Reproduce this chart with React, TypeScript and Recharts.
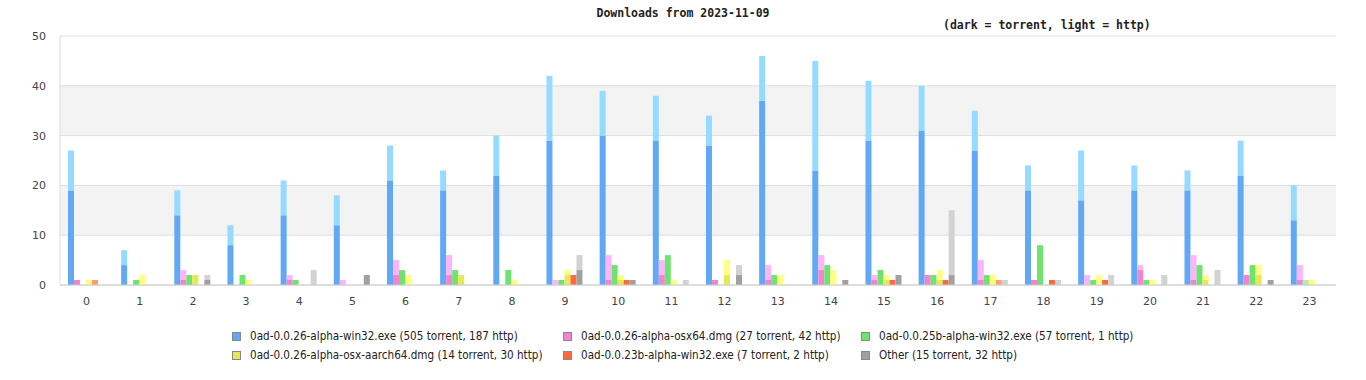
import { BarChart, Bar, XAxis, YAxis, CartesianGrid } from 'recharts';

const hours = ['0','1','2','3','4','5','6','7','8','9','10','11','12','13','14','15','16','17','18','19','20','21','22','23'];

// torrent / http counts per hour for each file
const win32Torrent = [19, 4, 14, 8, 14, 12, 21, 19, 22, 29, 30, 29, 28, 37, 23, 29, 31, 27, 19, 17, 19, 19, 22, 13];
const win32Http = [8, 3, 5, 4, 7, 6, 7, 4, 8, 13, 9, 9, 6, 9, 22, 12, 9, 8, 5, 10, 5, 4, 7, 7];
const osx64Torrent = [1, 0, 1, 0, 1, 0, 2, 2, 0, 0, 1, 2, 1, 1, 3, 1, 2, 1, 1, 0, 3, 1, 2, 1];
const osx64Http = [0, 0, 2, 0, 1, 1, 3, 4, 0, 1, 5, 3, 0, 3, 3, 1, 0, 4, 0, 2, 1, 5, 0, 3];
const win32bTorrent = [0, 1, 2, 2, 1, 0, 3, 3, 3, 1, 4, 6, 0, 2, 4, 3, 2, 2, 8, 1, 1, 4, 4, 0];
const win32bHttp = [0, 0, 0, 0, 0, 0, 0, 0, 0, 0, 0, 0, 0, 0, 0, 0, 0, 0, 0, 0, 0, 0, 0, 1];
const aarchTorrent = [0, 0, 2, 0, 0, 0, 0, 2, 0, 2, 1, 0, 2, 0, 0, 1, 1, 0, 0, 0, 0, 1, 2, 0];
const aarchHttp = [1, 2, 0, 1, 0, 0, 2, 0, 1, 1, 1, 1, 3, 2, 3, 1, 2, 2, 0, 2, 1, 1, 2, 1];
const oldTorrent = [0, 0, 0, 0, 0, 0, 0, 0, 0, 2, 1, 0, 0, 0, 0, 1, 1, 0, 1, 1, 0, 0, 0, 0];
const oldHttp = [1, 0, 0, 0, 0, 0, 0, 0, 0, 0, 0, 0, 0, 0, 0, 0, 0, 1, 0, 0, 0, 0, 0, 0];
const otherTorrent = [0, 0, 1, 0, 0, 2, 0, 0, 0, 3, 1, 0, 2, 0, 1, 2, 2, 0, 0, 0, 0, 0, 1, 0];
const otherHttp = [0, 0, 1, 0, 3, 0, 0, 0, 0, 3, 0, 1, 2, 0, 0, 0, 13, 1, 1, 2, 2, 3, 0, 0];

const seriesNames = [
  '0ad-0.0.26-alpha-win32.exe (505 torrent, 187 http)',
  '0ad-0.0.26-alpha-osx64.dmg (27 torrent, 42 http)',
  '0ad-0.0.25b-alpha-win32.exe (57 torrent, 1 http)',
  '0ad-0.0.26-alpha-osx-aarch64.dmg (14 torrent, 30 http)',
  '0ad-0.0.23b-alpha-win32.exe (7 torrent, 2 http)',
  'Other (15 torrent, 32 http)',
];

const yTicks = [0, 10, 20, 30, 40, 50];

const series = [
  { key: 's0', torrent: win32Torrent, http: win32Http, dark: '#62a9f5', light: '#95dbff' },
  { key: 's1', torrent: osx64Torrent, http: osx64Http, dark: '#f283cf', light: '#fdb4fb' },
  { key: 's2', torrent: win32bTorrent, http: win32bHttp, dark: '#6ee46e', light: '#a6f5a6' },
  { key: 's3', torrent: aarchTorrent, http: aarchHttp, dark: '#e8e854', light: '#ffff80' },
  { key: 's4', torrent: oldTorrent, http: oldHttp, dark: '#ff6a3a', light: '#ff9f6e' },
  { key: 's5', torrent: otherTorrent, http: otherHttp, dark: '#a0a0a0', light: '#d2d2d2' },
];

const data = hours.map((h, i) => {
  const row: Record<string, string | number> = { hour: h };
  series.forEach((s) => {
    row[s.key + 't'] = s.torrent[i];
    row[s.key + 'h'] = s.http[i];
  });
  return row;
});

const legendLeft = [232, 563, 861];

function LegendBox() {
  return (
    <div style={{ position: 'absolute', left: 0, top: 329, width: 1366, height: 40, fontFamily: '"DejaVu Sans Condensed", "DejaVu Sans", sans-serif', fontSize: 11.6, color: '#222' }}>
      {series.map((s, i) => (
        <div
          key={s.key}
          style={{
            position: 'absolute',
            left: legendLeft[i % 3],
            top: Math.floor(i / 3) * 19,
            display: 'flex',
            alignItems: 'center',
            whiteSpace: 'nowrap',
          }}
        >
          <span style={{ display: 'inline-block', width: 7, height: 7, background: s.dark, border: '1px solid #888', marginRight: 9 }} />
          {seriesNames[i]}
        </div>
      ))}
    </div>
  );
}

export default function App() {
  return (
    <div style={{ position: 'absolute', left: 0, top: 0, width: 1366, height: 380, background: '#fff' }}>
      <div style={{ position: 'absolute', left: 0, top: 6, width: 1366, textAlign: 'center', fontFamily: '"DejaVu Sans Mono", monospace', fontWeight: 'bold', fontSize: 11.5, color: '#222' }}>
        Downloads from 2023-11-09
      </div>
      <div style={{ position: 'absolute', left: 943, top: 18, fontFamily: '"DejaVu Sans Mono", monospace', fontWeight: 'bold', fontSize: 11.5, color: '#222', whiteSpace: 'pre' }}>
        (dark = torrent, light = http)
      </div>
      <BarChart
        width={1366}
        height={380}
        data={data}
        margin={{ top: 36, right: 30, left: 0, bottom: 0 }}
        barCategoryGap="15%"
        barGap={0}
      >
        <CartesianGrid vertical={false} stroke="#dddddd" horizontalFill={['#ffffff', '#f3f3f3']} fillOpacity={1} />
        <XAxis
          dataKey="hour"
          height={95}
          tickLine={false}
          axisLine={{ stroke: '#cccccc' }}
          tick={{ fill: '#444', fontSize: 11, fontFamily: '"DejaVu Sans", sans-serif' }}
          tickMargin={6}
        />
        <YAxis
          width={60}
          domain={[0, 50]}
          ticks={yTicks}
          tickLine={false}
          axisLine={{ stroke: '#dddddd' }}
          tick={{ fill: '#444', fontSize: 11, fontFamily: '"DejaVu Sans", sans-serif' }}
          tickMargin={8}
        />
        <YAxis yAxisId="r" orientation="right" width={0} tick={false} tickLine={false} axisLine={{ stroke: '#dddddd' }} domain={[0, 50]} />
        {series.flatMap((s) => [
          <Bar key={s.key + 't'} dataKey={s.key + 't'} stackId={s.key} fill={s.dark} isAnimationActive={false} />,
          <Bar key={s.key + 'h'} dataKey={s.key + 'h'} stackId={s.key} fill={s.light} isAnimationActive={false} />,
        ])}
      </BarChart>
      <LegendBox />
    </div>
  );
}
